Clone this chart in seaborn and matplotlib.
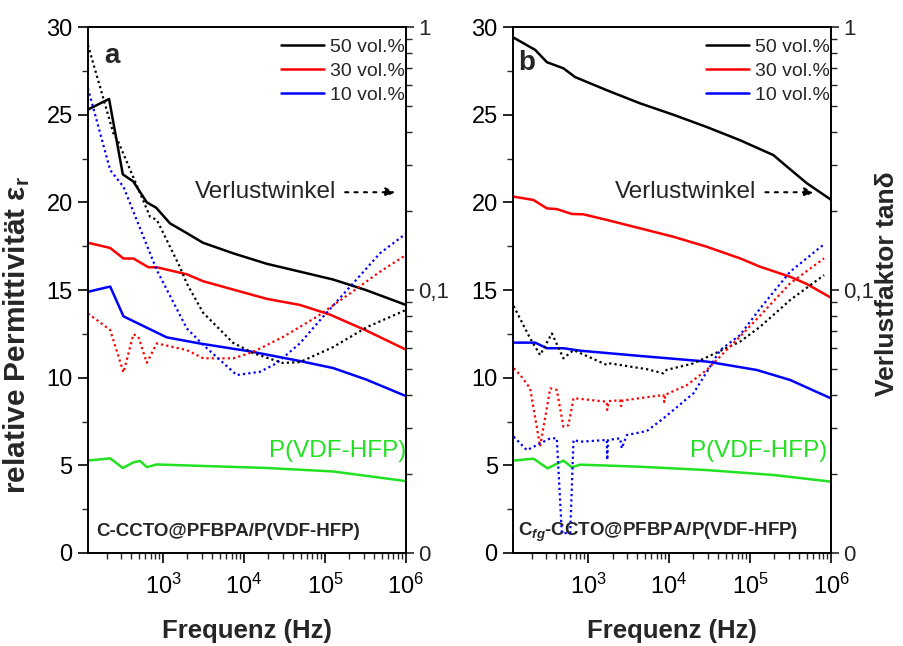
import numpy as np
import pandas as pd
import matplotlib
matplotlib.use("Agg")
import matplotlib.pyplot as plt
import seaborn as sns
from matplotlib.ticker import (FixedLocator, FuncFormatter, LogLocator,
                               NullFormatter, MultipleLocator)

# ---------------- data ----------------
# Panel a : C-CCTO@PFBPA/P(VDF-HFP)
a_f_eps50 = [118, 215, 318, 427, 630, 820, 1220, 1960, 3100, 7300, 19000, 49000, 126000, 320000, 1000000]
a_eps50 = [25.3, 25.9, 21.6, 21.2, 20.0, 19.7, 18.8, 18.25, 17.7, 17.1, 16.5, 16.05, 15.6, 15.0, 14.15]
a_f_eps30 = [118, 222, 324, 430, 659, 836, 1960, 3140, 19000, 49000, 115000, 320000, 1000000]
a_eps30 = [17.7, 17.4, 16.8, 16.8, 16.3, 16.3, 15.9, 15.5, 14.5, 14.15, 13.6, 12.7, 11.6]
a_f_eps10 = [118, 222, 324, 1110, 2860, 11900, 49000, 126000, 320000, 1000000]
a_eps10 = [14.9, 15.2, 13.5, 12.3, 11.95, 11.5, 10.95, 10.55, 9.9, 8.95]
a_f_pure = [118, 222, 318, 430, 520, 629, 836, 2860, 19000, 126000, 1000000]
a_eps_pure = [5.27, 5.40, 4.85, 5.17, 5.25, 4.9, 5.05, 4.97, 4.85, 4.65, 4.1]

a_f_tan50 = [118, 243, 281, 690, 836, 1620, 1960, 3120, 7310, 12900, 30000, 49000, 126000, 330000, 1000000]
a_tan50 = [0.855, 0.395, 0.365, 0.190, 0.185, 0.122, 0.106, 0.082, 0.063, 0.0576, 0.0528, 0.0532, 0.0607, 0.0723, 0.084]
a_f_tan30 = [118, 222, 324, 430, 495, 629, 836, 1960, 3140, 7380, 13000, 30500, 79000, 204000, 477000, 1000000]
a_tan30 = [0.0815, 0.0705, 0.0486, 0.0679, 0.0664, 0.0529, 0.0627, 0.0591, 0.055, 0.055, 0.0582, 0.0664, 0.0791, 0.0971, 0.1174, 0.136]
a_f_tan10 = [118, 222, 324, 836, 1960, 3140, 8100, 15800, 25000, 49000, 87000, 204000, 477000, 1000000]
a_tan10 = [0.585, 0.286, 0.247, 0.119, 0.0715, 0.0618, 0.0475, 0.0489, 0.0526, 0.0627, 0.0769, 0.103, 0.138, 0.164]

# Panel b : Cfg-CCTO@PFBPA/P(VDF-HFP)
b_f_eps50 = [120, 222, 309, 495, 690, 1700, 4390, 11300, 29200, 75000, 194000, 284000, 500000, 1000000]
b_eps50 = [29.4, 28.7, 28.0, 27.65, 27.15, 26.4, 25.65, 25.0, 24.3, 23.55, 22.7, 22.05, 21.1, 20.15]
b_f_eps30 = [120, 211, 309, 410, 630, 875, 1700, 4390, 11300, 29200, 75000, 133000, 312000, 500000, 1000000]
b_eps30 = [20.33, 20.14, 19.66, 19.62, 19.34, 19.32, 19.0, 18.52, 18.04, 17.47, 16.81, 16.33, 15.76, 15.35, 14.56]
b_f_eps10 = [120, 222, 309, 495, 800, 4390, 29200, 121000, 312000, 1000000]
b_eps10 = [12.0, 12.0, 11.68, 11.68, 11.54, 11.24, 10.92, 10.44, 9.87, 8.82]
b_f_pure = [120, 211, 315, 495, 630, 800, 4390, 29200, 194000, 1000000]
b_eps_pure = [5.27, 5.38, 4.83, 5.27, 4.89, 5.04, 4.92, 4.73, 4.45, 4.07]

b_f_tan50 = [120, 192, 255, 356, 495, 659, 1700, 1870, 5310, 8500, 9300, 20000, 75000, 133000, 312000, 820000]
b_tan50 = [0.087, 0.0655, 0.0566, 0.0684, 0.055, 0.0591, 0.0519, 0.0526, 0.050, 0.0482, 0.0497, 0.0526, 0.0636, 0.0725, 0.0916, 0.114]
b_f_tan30 = [120, 145, 192, 255, 340, 410, 495, 571, 659, 1700, 1720, 1800, 2480, 2550, 2650, 8500, 8700, 9000, 16600, 29200, 75000, 133000, 312000, 820000]
b_tan30 = [0.0504, 0.0475, 0.0423, 0.0254, 0.0423, 0.0417, 0.0302, 0.0306, 0.0388, 0.0376, 0.035, 0.0378, 0.0381, 0.0362, 0.038, 0.0399, 0.0375, 0.040, 0.0435, 0.0497, 0.0665, 0.080, 0.106, 0.132]
b_f_tan10 = [120, 175, 340, 410, 473, 600, 659, 800, 1700, 1720, 1760, 2480, 2600, 3010, 5310, 8500, 20000, 32000, 42700, 75000, 133000, 312000, 790000]
b_tan10 = [0.0277, 0.0246, 0.0273, 0.0273, 0.0119, 0.0119, 0.0269, 0.0265, 0.0269, 0.0226, 0.0269, 0.0273, 0.025, 0.0281, 0.0291, 0.0325, 0.0405, 0.0511, 0.0591, 0.0674, 0.0851, 0.1174, 0.148]

series_labels = ["50 vol.%", "30 vol.%", "10 vol.%"]
pure_label = "P(VDF-HFP)"
sample_labels = ["C-CCTO@PFBPA/P(VDF-HFP)", r"C$_{\mathit{fg}}$-CCTO@PFBPA/P(VDF-HFP)"]
panel_letters = ["a", "b"]
tan_tick_values = [0.01, 0.1, 1]
tan_tick_labels = ["0", "0,1", "1"]

# ---------------- style ----------------
sns.set_theme(style="ticks")
plt.rcParams["font.family"] = ["Liberation Sans", "DejaVu Sans"]
plt.rcParams["mathtext.fontset"] = "custom"
plt.rcParams["mathtext.rm"] = "Liberation Sans"
plt.rcParams["mathtext.it"] = "Liberation Sans:italic:bold"
plt.rcParams["mathtext.bf"] = "Liberation Sans:bold"
plt.rcParams["mathtext.default"] = "regular"
plt.rcParams["axes.linewidth"] = 1.2

BLACK, RED, BLUE, GREEN = "#000000", "#ff0000", "#0000ff", "#22e022"
colors = [BLACK, RED, BLUE]
DOT = (0, (1, 1.4))

fig = plt.figure(figsize=(9.04, 6.46), dpi=100)
axes_rects = [[0.0973, 0.144, 0.3518, 0.814], [0.5675, 0.144, 0.3518, 0.814]]

panels = [
    dict(eps=[(a_f_eps50, a_eps50), (a_f_eps30, a_eps30), (a_f_eps10, a_eps10)],
         pure=(a_f_pure, a_eps_pure),
         tan=[(a_f_tan50, a_tan50), (a_f_tan30, a_tan30), (a_f_tan10, a_tan10)]),
    dict(eps=[(b_f_eps50, b_eps50), (b_f_eps30, b_eps30), (b_f_eps10, b_eps10)],
         pure=(b_f_pure, b_eps_pure),
         tan=[(b_f_tan50, b_tan50), (b_f_tan30, b_tan30), (b_f_tan10, b_tan10)]),
]

TICK = 17
for i, (rect, pnl) in enumerate(zip(axes_rects, panels)):
    ax = fig.add_axes(rect)
    ax.set_xscale("log")
    ax2 = ax.twinx()
    ax2.set_yscale("log")

    handles = []
    for (f, v), c, lab in zip(pnl["eps"], colors, series_labels):
        df = pd.DataFrame({"f": f, "v": v})
        sns.lineplot(data=df, x="f", y="v", ax=ax, color=c, linewidth=1.8,
                     estimator=None, sort=False, label=lab, legend=False)
        handles.append(ax.lines[-1])
    df = pd.DataFrame({"f": pnl["pure"][0], "v": pnl["pure"][1]})
    sns.lineplot(data=df, x="f", y="v", ax=ax, color=GREEN, linewidth=1.8,
                 estimator=None, sort=False, legend=False)

    for (f, v), c in zip(pnl["tan"], colors):
        df = pd.DataFrame({"f": f, "v": v})
        sns.lineplot(data=df, x="f", y="v", ax=ax2, color=c, linewidth=1.6,
                     linestyle=DOT, estimator=None, sort=False, legend=False)

    ax.set_xlim(118, 1.0e6)
    ax.set_ylim(0, 30)
    ax2.set_ylim(0.01, 1)

    ax.yaxis.set_major_locator(MultipleLocator(5))
    ax.yaxis.set_minor_locator(MultipleLocator(2.5))
    ax.xaxis.set_major_locator(LogLocator(base=10, numticks=12))
    ax.xaxis.set_minor_locator(LogLocator(base=10, subs=np.arange(2, 10), numticks=12))
    ax.xaxis.set_minor_formatter(NullFormatter())
    ax2.yaxis.set_major_locator(FixedLocator(tan_tick_values))
    ax2.yaxis.set_major_formatter(FuncFormatter(
        lambda y, pos: dict(zip(tan_tick_values, tan_tick_labels)).get(round(y, 4), "")))
    ax2.yaxis.set_minor_locator(LogLocator(base=10, subs=np.arange(2, 10), numticks=12))
    ax2.yaxis.set_minor_formatter(NullFormatter())

    ax.tick_params(axis="both", which="major", direction="out", length=7, width=1.2,
                   labelsize=TICK, color="black", labelcolor="black")
    ax.tick_params(axis="both", which="minor", direction="out", length=4, width=1.0)
    ax.tick_params(axis="x", which="major", pad=8)
    ax.tick_params(axis="y", which="major", pad=4)
    ax2.tick_params(axis="y", which="major", direction="out", length=6, width=1.2,
                    labelsize=16, pad=3)
    ax2.tick_params(axis="y", which="minor", direction="out", length=4.5, width=1.0)
    for a_ in (ax, ax2):
        for s in a_.spines.values():
            s.set_visible(True)
            s.set_linewidth(1.2)
            s.set_color("black")
    ax.grid(False)
    ax2.grid(False)

    ax.set_xlabel("Frequenz (Hz)", fontsize=18.5, fontweight="bold")
    ax.xaxis.set_label_coords(0.5, -0.125)
    if i == 0:
        ax.set_ylabel("relative Permittivität ε$_\\mathregular{r}$", fontsize=21.5,
                      fontweight="bold")
        ax.yaxis.set_label_coords(-0.176, 0.415)
        ax2.set_ylabel("")
    else:
        ax.set_ylabel("")
        ax2.set_ylabel("Verlustfaktor tanδ", fontsize=19, fontweight="bold")
        ax2.yaxis.set_label_coords(1.137, 0.512)

    leg = ax.legend(handles=handles, labels=series_labels, loc="upper right",
                    bbox_to_anchor=(1.02, 0.994), frameon=False, fontsize=14,
                    handlelength=2.2, handletextpad=0.3, labelspacing=0.33,
                    borderaxespad=0.2, borderpad=0.2)

    # panel letter
    ax.text(0.05 if i == 0 else 0.016, 0.97 if i == 0 else 0.957, panel_letters[i],
            transform=ax.transAxes, fontsize=20, fontweight="bold", va="top", ha="left")
    # Verlustwinkel with dotted arrow
    tx = 0.336 if i == 0 else 0.321
    ax.text(tx, 0.686, "Verlustwinkel", transform=ax.transAxes, fontsize=17.5,
            va="center", ha="left")
    ax.annotate("", xy=(0.975 if i == 0 else 0.955, 0.686), xycoords="axes fraction",
                xytext=(0.80 if i == 0 else 0.785, 0.686), textcoords="axes fraction",
                arrowprops=dict(arrowstyle="-|>", linestyle=(0, (1.5, 3)), lw=1.5,
                                color="black", mutation_scale=14))
    # pure polymer label
    ax.text(1.0 if i == 0 else 0.987, 0.193, pure_label, transform=ax.transAxes,
            fontsize=17.5, color=GREEN, va="center", ha="right")
    # sample name
    ax.text(0.025 if i == 0 else 0.016, 0.04, sample_labels[i], transform=ax.transAxes,
            fontsize=13.5, fontweight="bold", va="center", ha="left")

fig.savefig("out.png", dpi=100)
